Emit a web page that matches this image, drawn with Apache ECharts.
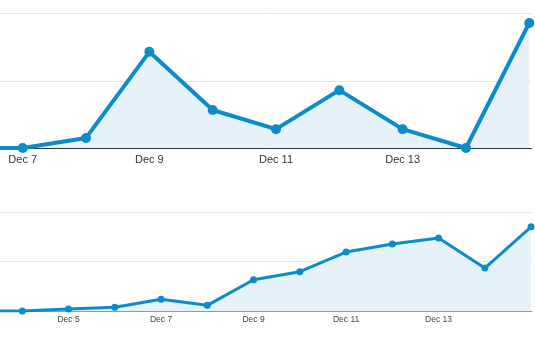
<!DOCTYPE html>
<html>
<head>
<meta charset="utf-8">
<script src="https://cdn.jsdelivr.net/npm/echarts@6/dist/echarts.min.js"></script>
<style>html,body{margin:0;padding:0;background:#fff}#c{width:535px;height:350px}</style>
</head>
<body>
<div id="c"></div>
<script>
// Top chart (day of December)
const topDays = [6, 7, 8, 9, 10, 11, 12, 13, 14, 15];
const topValues = [0, 0, 1.5, 14.3, 5.65, 2.8, 8.6, 2.8, 0, 18.6];
const topLabelDays = [7, 9, 11, 13];
// Bottom chart (day of December)
const botDays = [3, 4, 5, 6, 7, 8, 9, 10, 11, 12, 13, 14, 15];
const botValues = [0, 0, 0.4, 0.75, 2.37, 1.15, 6.34, 7.96, 11.94, 13.56, 14.78, 8.7, 17.06];
const botLabelDays = [5, 7, 9, 11, 13];

const blue = '#0a8ccc';
const fill = '#e7f1f9';
const pair = (xs, ys) => xs.map((x, i) => [x, ys[i]]);
const chart = echarts.init(document.getElementById('c'));
chart.setOption({
  animation: false,
  grid: [
    {left: 0, right: 3.5, top: 13.5, height: 134.5},
    {left: 0, right: 3, top: 212.3, height: 98.7}
  ],
  xAxis: [
    {
      type: 'value', gridIndex: 0, min: 6.6415, max: 15.035,
      splitLine: {show: false},
      axisLine: {lineStyle: {color: '#333', width: 1}},
      axisTick: {show: false},
      axisLabel: {
        customValues: topLabelDays, formatter: v => 'Dec ' + v,
        color: '#333', fontSize: 11, fontFamily: 'Liberation Sans, Arial', margin: 6
      }
    },
    {
      type: 'value', gridIndex: 1, min: 3.518, max: 15.02,
      splitLine: {show: false},
      axisLine: {lineStyle: {color: '#999', width: 1}},
      axisTick: {show: false},
      axisLabel: {
        customValues: botLabelDays, formatter: v => 'Dec ' + v,
        color: '#444', fontSize: 8.5, fontFamily: 'Liberation Sans, Arial', margin: 4
      }
    }
  ],
  yAxis: [
    {type: 'value', gridIndex: 0, min: 0, max: 20, interval: 10,
     axisLabel: {show: false}, axisLine: {show: false}, axisTick: {show: false},
     splitLine: {lineStyle: {color: '#e6e6e6', width: 1}}},
    {type: 'value', gridIndex: 1, min: 0, max: 20, interval: 10,
     axisLabel: {show: false}, axisLine: {show: false}, axisTick: {show: false},
     splitLine: {lineStyle: {color: '#e6e6e6', width: 1}}}
  ],
  series: [
    {
      type: 'line', xAxisIndex: 0, yAxisIndex: 0, data: pair(topDays, topValues),
      clip: true,
      symbol: 'circle', symbolSize: 10, showAllSymbol: true,
      lineStyle: {color: blue, width: 4},
      itemStyle: {color: blue},
      areaStyle: {color: fill, opacity: 1}
    },
    {
      type: 'line', xAxisIndex: 1, yAxisIndex: 1, data: pair(botDays, botValues),
      clip: true,
      symbol: 'circle', symbolSize: 7, showAllSymbol: true,
      lineStyle: {color: blue, width: 3},
      itemStyle: {color: blue},
      areaStyle: {color: fill, opacity: 1}
    }
  ]
});
</script>
</body>
</html>
